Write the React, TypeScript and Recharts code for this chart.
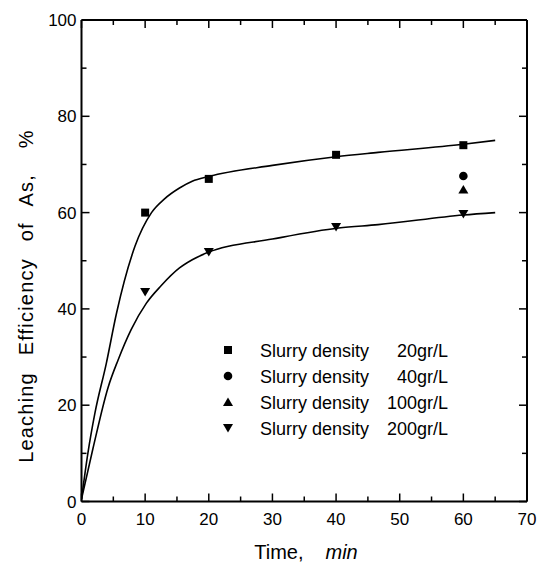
import { ComposedChart, XAxis, YAxis, Line, Scatter, Legend, Label } from "recharts";

// fitted curves (time in min, efficiency in %)
const upperCurve = [
    { t: 0, v: 0.5 },
    { t: 1, v: 10 },
    { t: 2.1, v: 18.3 },
    { t: 3.9, v: 28.7 },
    { t: 5.5, v: 39.1 },
    { t: 8.4, v: 53 },
    { t: 11, v: 60 },
    { t: 13, v: 62.8 },
    { t: 15.4, v: 65.1 },
    { t: 17.4, v: 66.5 },
    { t: 20, v: 67.5 },
    { t: 30, v: 69.8 },
    { t: 40, v: 71.6 },
    { t: 46.6, v: 72.5 },
    { t: 60, v: 74.2 },
    { t: 65, v: 75 },
];
const lowerCurve = [
    { t: 0, v: 0.5 },
    { t: 1.8, v: 11 },
    { t: 4.2, v: 23.8 },
    { t: 5.75, v: 29.4 },
    { t: 7.8, v: 35.7 },
    { t: 10.2, v: 41.2 },
    { t: 12.5, v: 44.8 },
    { t: 15.4, v: 48.5 },
    { t: 17.4, v: 50.2 },
    { t: 20, v: 51.8 },
    { t: 30, v: 54.5 },
    { t: 40.4, v: 56.8 },
    { t: 46.6, v: 57.5 },
    { t: 60, v: 59.5 },
    { t: 65, v: 60 },
];

// measured points
const d20 = [
    { t: 10, v: 60 },
    { t: 20, v: 67 },
    { t: 40, v: 72 },
    { t: 60, v: 74 },
];
const d40 = [{ t: 60, v: 67.6 }];
const d100 = [{ t: 60, v: 64.8 }];
const d200 = [
    { t: 10, v: 43.5 },
    { t: 20, v: 51.8 },
    { t: 40, v: 57 },
    { t: 60, v: 59.7 },
];

const legendNames = ["Slurry density", "Slurry density", "Slurry density", "Slurry density"];
const legendValues = ["20gr/L", "40gr/L", "100gr/L", "200gr/L"];
const legendShapes = ["square", "circle", "up", "down"];

const xTicks = [0, 5, 10, 15, 20, 25, 30, 35, 40, 45, 50, 55, 60, 65, 70];
const yTicks = [0, 10, 20, 30, 40, 50, 60, 70, 80, 90, 100];

const FONT = '"Liberation Sans", Arial, sans-serif';

const marker = (kind: string, cx: number, cy: number) => {
    if (kind === "square") return <rect x={cx - 4} y={cy - 4} width={8} height={8} fill="#000" />;
    if (kind === "circle") return <circle cx={cx} cy={cy} r={4.3} fill="#000" />;
    if (kind === "up")
        return <path d={`M${cx},${cy - 4.5}L${cx + 5},${cy + 4}L${cx - 5},${cy + 4}Z`} fill="#000" />;
    return <path d={`M${cx},${cy + 4.5}L${cx + 5},${cy - 4}L${cx - 5},${cy - 4}Z`} fill="#000" />;
};

const shape = (kind: string) => (p: any) => marker(kind, p.cx, p.cy);

const BottomTick = (p: any) => {
    const v = p.payload.value;
    const major = v % 10 === 0;
    return (
        <g>
            <line x1={p.x} x2={p.x} y1={p.y} y2={p.y - (major ? 8 : 5)} stroke="#000" strokeWidth={1.5} />
            {major && (
                <text x={p.x} y={p.y + 23.5} textAnchor="middle" fontSize={17} fontFamily={FONT} fill="#000">
                    {v}
                </text>
            )}
        </g>
    );
};
const TopTick = (p: any) => {
    const major = p.payload.value % 10 === 0;
    return <line x1={p.x} x2={p.x} y1={p.y} y2={p.y + (major ? 8 : 5)} stroke="#000" strokeWidth={1.5} />;
};
const LeftTick = (p: any) => {
    const v = p.payload.value;
    const major = v % 20 === 0;
    return (
        <g>
            <line x1={p.x} x2={p.x + (major ? 8 : 5)} y1={p.y} y2={p.y} stroke="#000" strokeWidth={1.5} />
            {major && (
                <text x={p.x - 5} y={p.y + 6} textAnchor="end" fontSize={17} fontFamily={FONT} fill="#000">
                    {v}
                </text>
            )}
        </g>
    );
};
const RightTick = (p: any) => {
    const major = p.payload.value % 20 === 0;
    return <line x1={p.x} x2={p.x - (major ? 8 : 5)} y1={p.y} y2={p.y} stroke="#000" strokeWidth={1.5} />;
};

const LegendBox = () => (
    <svg width={240} height={104} style={{ display: "block" }}>
        {legendValues.map((val, i) => {
            const cy = 12 + i * 26;
            return (
                <g key={val}>
                    {marker(legendShapes[i], 15, cy)}
                    <text x={47} y={cy + 6.5} fontSize={18} fontFamily={FONT} fill="#000">
                        {legendNames[i]}
                    </text>
                    <text x={235} y={cy + 6.5} fontSize={18} fontFamily={FONT} fill="#000" textAnchor="end">
                        {val}
                    </text>
                </g>
            );
        })}
    </svg>
);

export default function App() {
    return (
        <div style={{ position: "absolute", left: 0, top: 0 }}>
            <ComposedChart width={538} height={566} margin={{ top: 19, right: 10, bottom: 34.5, left: 21.5 }}>
                <XAxis
                    dataKey="t"
                    type="number"
                    domain={[0, 70]}
                    ticks={xTicks}
                    interval={0}
                    height={30}
                    tickSize={0}
                    tickMargin={0}
                    tickLine={false}
                    tick={<BottomTick />}
                    axisLine={{ stroke: "#000", strokeWidth: 2 }}
                    allowDataOverflow
                >
                    <Label
                        content={() => (
                            <text x={306} y={559} textAnchor="middle" fontSize={20} fontFamily={FONT} fill="#000">
                                <tspan>Time,</tspan>
                                <tspan dx={22} fontStyle="italic">min</tspan>
                            </text>
                        )}
                    />
                </XAxis>
                <XAxis
                    xAxisId="top"
                    dataKey="t"
                    orientation="top"
                    type="number"
                    domain={[0, 70]}
                    ticks={xTicks}
                    interval={0}
                    height={1}
                    tickSize={0}
                    tickMargin={0}
                    tickLine={false}
                    tick={<TopTick />}
                    axisLine={{ stroke: "#000", strokeWidth: 2 }}
                    allowDataOverflow
                />
                <YAxis
                    type="number"
                    domain={[0, 100]}
                    ticks={yTicks}
                    interval={0}
                    width={60}
                    tickSize={0}
                    tickMargin={0}
                    tickLine={false}
                    tick={<LeftTick />}
                    axisLine={{ stroke: "#000", strokeWidth: 2 }}
                    allowDataOverflow
                >
                    <Label
                        content={() => (
                            <text
                                transform="translate(33,296) rotate(-90)"
                                textAnchor="middle"
                                fontSize={20}
                                fontFamily={FONT}
                                letterSpacing={1.2}
                                wordSpacing={10}
                                fill="#000"
                            >
                                <tspan>Leaching Efficiency of As,</tspan>
                                <tspan dx={26}>%</tspan>
                            </text>
                        )}
                    />
                </YAxis>
                <YAxis
                    yAxisId="right"
                    dataKey="v"
                    orientation="right"
                    type="number"
                    domain={[0, 100]}
                    ticks={yTicks}
                    interval={0}
                    width={1}
                    tickSize={0}
                    tickMargin={0}
                    tickLine={false}
                    tick={<RightTick />}
                    axisLine={{ stroke: "#000", strokeWidth: 2 }}
                    allowDataOverflow
                />
                <Legend
                    layout="vertical"
                    align="center"
                    verticalAlign="middle"
                    content={() => <LegendBox />}
                    wrapperStyle={{ left: 213, top: 338, width: 240, height: 104 }}
                />
                <Line data={upperCurve} dataKey="v" type="monotone" stroke="#000" strokeWidth={1.6} dot={false} legendType="none" isAnimationActive={false} />
                <Line data={lowerCurve} dataKey="v" type="monotone" stroke="#000" strokeWidth={1.6} dot={false} legendType="none" isAnimationActive={false} />
                {/* invisible series so the top and right frame axes get a scale */}
                <Line xAxisId="top" yAxisId="right" data={upperCurve} dataKey="v" stroke="transparent" dot={false} legendType="none" isAnimationActive={false} />
                <Scatter name="Slurry density 20gr/L" data={d20} dataKey="v" shape={shape("square")} isAnimationActive={false} />
                <Scatter name="Slurry density 40gr/L" data={d40} dataKey="v" shape={shape("circle")} isAnimationActive={false} />
                <Scatter name="Slurry density 100gr/L" data={d100} dataKey="v" shape={shape("up")} isAnimationActive={false} />
                <Scatter name="Slurry density 200gr/L" data={d200} dataKey="v" shape={shape("down")} isAnimationActive={false} />
            </ComposedChart>
        </div>
    );
}
